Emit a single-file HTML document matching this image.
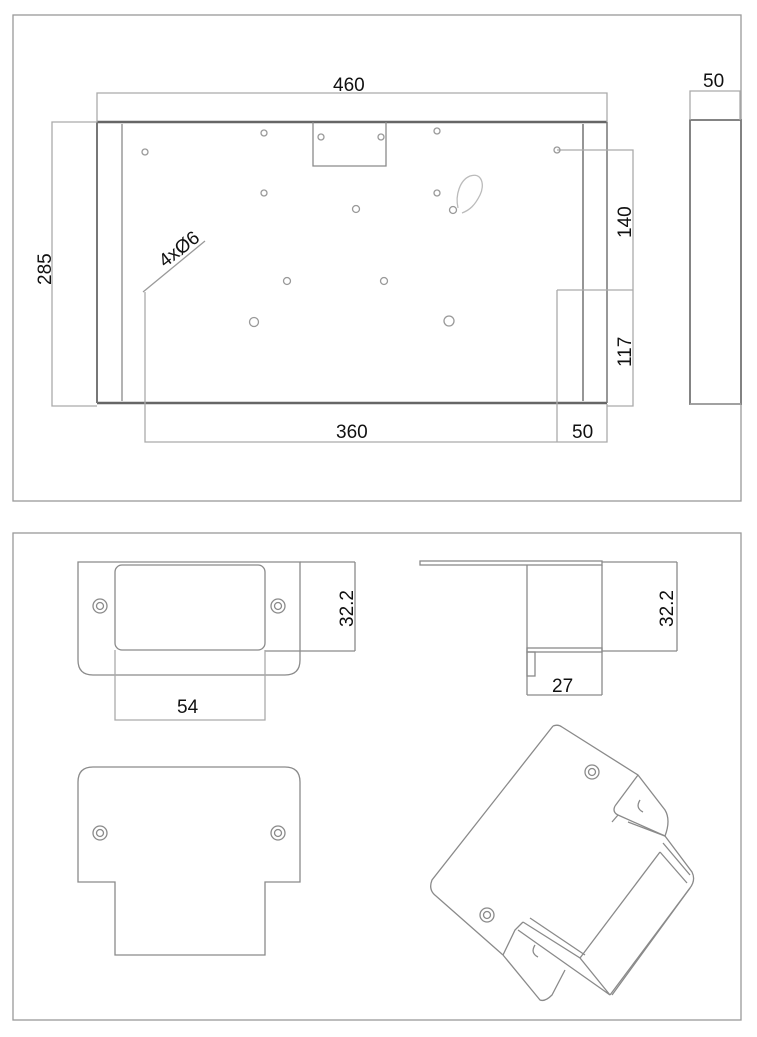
<!DOCTYPE html>
<html><head><meta charset="utf-8"><style>
html,body{margin:0;padding:0;background:#fff}
svg{display:block}
text{font-family:"Liberation Sans","DejaVu Sans",sans-serif;fill:#111;font-size:19px}
</style></head><body>
<svg width="757" height="1037" viewBox="0 0 757 1037" xmlns="http://www.w3.org/2000/svg">
<g fill="none" stroke="#8a8a8a" stroke-width="1.3">
<rect x="13" y="15" width="728" height="486" stroke="#999"/>
<rect x="13" y="533" width="728" height="487" stroke="#999"/>
<line x1="97" y1="122" x2="607" y2="122" stroke="#666" stroke-width="2.5"/>
<line x1="97" y1="403" x2="607" y2="403" stroke="#666" stroke-width="2.5"/>
<line x1="97" y1="122" x2="97" y2="403" stroke="#777" stroke-width="2"/>
<line x1="607" y1="122" x2="607" y2="403" stroke="#777" stroke-width="1.5"/>
<line x1="122" y1="124" x2="122" y2="401"/>
<line x1="583" y1="124" x2="583" y2="401" stroke-width="1.8"/>
<polyline points="313,122 313,166 386,166 386,122"/>
<polyline points="97,122 97,93 607,93 607,122" stroke="#aaa"/>
<polyline points="97,122 52,122 52,406 97,406" stroke="#aaa"/>
<polyline points="145,292 145,442 607,442 607,404" stroke="#aaa"/>
<line x1="557" y1="290" x2="557" y2="442" stroke="#aaa"/>
<polyline points="557,150 633,150 633,406 607,406" stroke="#aaa"/>
<line x1="557" y1="290" x2="633" y2="290" stroke="#aaa"/>
<line x1="143" y1="292" x2="205" y2="241" stroke="#999"/>
<rect x="690" y="120" width="51" height="284" stroke="#777" stroke-width="1.8"/>
<polyline points="690,120 690,91 740,91 740,120" stroke="#aaa"/>
<line x1="690" y1="404" x2="741" y2="404" stroke="#aaa"/>
<g stroke="#999">
<circle cx="264" cy="133" r="3"/><circle cx="321" cy="137" r="3"/><circle cx="381" cy="137" r="3"/><circle cx="437" cy="131" r="3"/>
<circle cx="145" cy="152" r="3"/><circle cx="557" cy="150" r="3"/>
<circle cx="264" cy="193" r="3"/><circle cx="437" cy="193" r="3"/>
<circle cx="356" cy="209" r="3.5"/><circle cx="453" cy="210" r="3.5"/>
<circle cx="287" cy="281" r="3.5"/><circle cx="384" cy="281" r="3.5"/>
<circle cx="254" cy="322" r="4.5"/><circle cx="449" cy="321" r="5"/>
</g>
<path d="M458,208 C455,195 460,180 470,176 C482,172 485,185 480,195 C475,205 470,210 462,213" stroke="#bbb"/>
<path d="M78,562 L300,562 L300,660 Q300,675 285,675 L93,675 Q78,675 78,660 Z"/>
<rect x="115" y="565" width="150" height="85" rx="7"/>
<line x1="300" y1="562" x2="355" y2="562"/>
<line x1="265" y1="651" x2="355" y2="651"/>
<line x1="355" y1="562" x2="355" y2="651"/>
<polyline points="115,650 115,720 265,720 265,650" stroke="#aaa"/>
<circle cx="100" cy="606" r="7"/><circle cx="100" cy="606" r="3.5"/>
<circle cx="278" cy="606" r="7"/><circle cx="278" cy="606" r="3.5"/>
<rect x="420" y="561" width="182" height="4"/>
<line x1="602" y1="562" x2="677" y2="562"/>
<line x1="527" y1="565" x2="527" y2="695"/>
<line x1="602" y1="565" x2="602" y2="695"/>
<rect x="527" y="648" width="75" height="4"/>
<line x1="602" y1="651" x2="677" y2="651"/>
<line x1="677" y1="562" x2="677" y2="651"/>
<rect x="527" y="652" width="8" height="24"/>
<line x1="527" y1="695" x2="602" y2="695"/>
<path d="M93,767 L285,767 Q300,767 300,782 L300,882 L265,882 L265,955 L115,955 L115,882 L78,882 L78,782 Q78,767 93,767 Z"/>
<circle cx="100" cy="833" r="7"/><circle cx="100" cy="833" r="3.5"/>
<circle cx="278" cy="833" r="7"/><circle cx="278" cy="833" r="3.5"/>
<path d="M553,726 Q558,724 562,727 L638,775 L665,810 Q671,820 665,836 L628,822"/>
<path d="M553,726 L432,880 Q428,890 436,896 L503,955"/>
<line x1="638" y1="775" x2="615" y2="806"/>
<path d="M615,806 Q612,812 618,815 L665,836"/>
<line x1="618" y1="815" x2="612" y2="822"/>
<path d="M665,836 L692,872 Q696,880 690,888 L612,995"/>
<path d="M663,843 L690,875"/>
<path d="M660,852 L687,883"/>
<line x1="660" y1="852" x2="580" y2="958"/>
<line x1="690" y1="888" x2="610" y2="995"/>
<path d="M503,955 L540,1000 Q545,1002 552,995 L565,970"/>
<path d="M523,922 L515,930 L503,955"/>
<path d="M523,922 L580,958 L610,995 L603,990 L518,930"/>
<path d="M530,918 L585,955"/>
<circle cx="592" cy="772" r="7"/><circle cx="592" cy="772" r="3.5"/>
<circle cx="487" cy="915" r="7"/><circle cx="487" cy="915" r="3.5"/>
<path d="M640,800 q-5,8 3,12"/>
<path d="M535,945 q-5,8 3,12"/>
</g>
<text x="333" y="91">460</text>
<text x="703" y="87">50</text>
<text x="336" y="438">360</text>
<text x="572" y="438">50</text>
<text transform="translate(51,285) rotate(-90)">285</text>
<text transform="translate(631,238) rotate(-90)">140</text>
<text transform="translate(631,367) rotate(-90)">117</text>
<text transform="translate(165,268) rotate(-38)">4xØ6</text>
<text transform="translate(353,627) rotate(-90)">32.2</text>
<text transform="translate(673,627) rotate(-90)">32.2</text>
<text x="177" y="713">54</text>
<text x="552" y="692">27</text>
</svg>
</body></html>
